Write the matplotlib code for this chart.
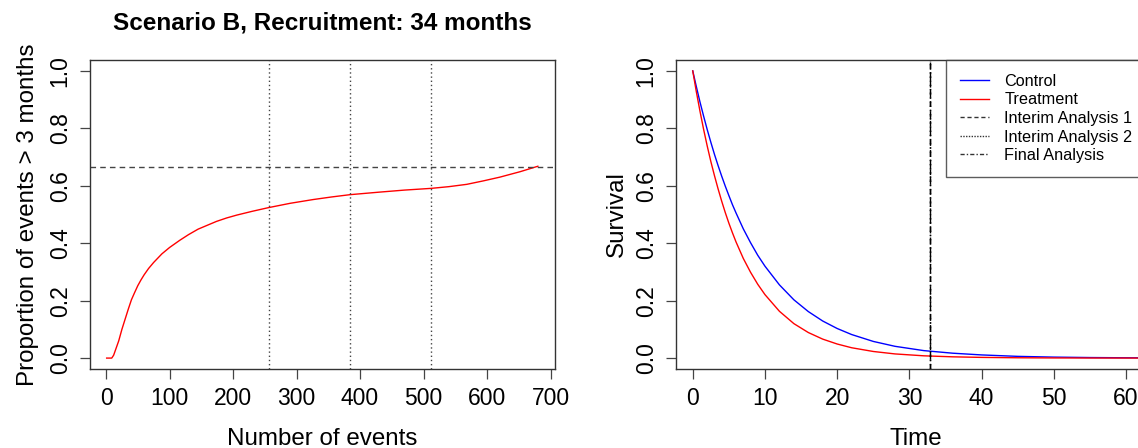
import matplotlib
matplotlib.use("Agg")
import matplotlib.pyplot as plt
from matplotlib.lines import Line2D

plt.rcParams['font.family'] = ['Liberation Sans', 'DejaVu Sans']

# ---- Left panel data: proportion of events > 3 months vs number of events
events = [1, 9, 12, 16, 20, 25, 30, 35, 40, 45, 50, 55, 60, 67, 75, 88, 100,
          116, 130, 145, 160, 174, 190, 206, 230, 256, 290, 326, 355, 384, 431,
          470, 512, 540, 568, 594, 620, 652, 680]
prop = [0.0, 0.0, 0.01, 0.035, 0.06, 0.10, 0.135, 0.17, 0.203, 0.228, 0.252,
        0.272, 0.29, 0.312, 0.333, 0.363, 0.385, 0.41, 0.43, 0.449, 0.463,
        0.476, 0.488, 0.498, 0.511, 0.524, 0.539, 0.552, 0.561, 0.569, 0.578,
        0.585, 0.591, 0.597, 0.605, 0.617, 0.630, 0.649, 0.668]
interim_events = [256, 384, 512]
threshold = 0.667
left_xticks = [0, 100, 200, 300, 400, 500, 600, 700]
yticks = [0.0, 0.2, 0.4, 0.6, 0.8, 1.0]

# ---- Right panel data: survival curves
time = [0, 0.5, 1, 1.5, 2, 2.5, 3, 3.5, 4, 4.5, 5, 5.5, 6, 7, 8, 9, 10, 12, 14,
        16, 18, 20, 22, 25, 28, 32, 36, 40, 45, 50, 55, 60, 65]
control = [1.0, 0.945, 0.892, 0.843, 0.796, 0.752, 0.710, 0.671, 0.634, 0.599,
           0.566, 0.534, 0.505, 0.450, 0.402, 0.358, 0.320, 0.255, 0.203,
           0.162, 0.129, 0.103, 0.082, 0.058, 0.041, 0.026, 0.017, 0.011,
           0.006, 0.0034, 0.0019, 0.0011, 0.0006]
treatment = [1.0, 0.927, 0.860, 0.797, 0.739, 0.685, 0.636, 0.590, 0.547,
             0.507, 0.470, 0.436, 0.404, 0.347, 0.299, 0.257, 0.221, 0.163,
             0.12, 0.089, 0.066, 0.049, 0.036, 0.023, 0.0145, 0.0079, 0.0044,
             0.0024, 0.0011, 0.0005, 0.0002, 0.0001, 0.0]
analysis_time = 32.8
right_xticks = [0, 10, 20, 30, 40, 50, 60]

W, H = 1138, 448
fig = plt.figure(figsize=(W / 100, H / 100), dpi=100)

def style(ax):
    for s in ax.spines.values():
        s.set_color('#333333')
        s.set_linewidth(1.0)
    ax.tick_params(direction='out', length=7, width=0.9, color='#444444',
                   labelsize=16.5, pad=6)
    ax.set_yticks(yticks)
    ax.set_yticklabels([f"{v:.1f}" for v in yticks], rotation=90, va='center')

fs = 17.4

# Left
ax1 = fig.add_axes([89.7 / W, (H - 369) / H, (555 - 89.7) / W, (369 - 60) / H])
ax1.plot(events, prop, color='red', lw=1.0)
for e in interim_events:
    ax1.axvline(e, color='#444444', ls=(0, (1, 2)), lw=1.0)
ax1.axhline(threshold, color='#444444', ls=(0, (4, 3)), lw=1.0)
ax1.set_xlim(-25.7, 707)
ax1.set_ylim(-0.038, 1.038)
style(ax1)
ax1.set_xticks(left_xticks)
ax1.set_xlabel("Number of events", fontsize=fs, labelpad=13)
ax1.set_ylabel("Proportion of events > 3 months", fontsize=fs, labelpad=7)
ax1.set_title("Scenario B, Recruitment: 34 months", fontsize=17.5,
              fontweight='bold', pad=22)

# Right
ax2 = fig.add_axes([675.7 / W, (H - 369) / H, (1155 - 675.7) / W, (369 - 60) / H])
ax2.plot(time, control, color='blue', lw=1.0)
ax2.plot(time, treatment, color='red', lw=1.0)
ax2.axvline(analysis_time, color='black', ls=(0, (4, 3)), lw=1.0)
ax2.axvline(analysis_time, color='black', ls=(0, (1, 2)), lw=1.0)
ax2.axvline(analysis_time, color='black', ls=(0, (4, 2, 1, 2)), lw=1.0)
ax2.set_xlim(-2.36, 64)
ax2.set_ylim(-0.038, 1.038)
style(ax2)
ax2.set_xticks(right_xticks)
ax2.set_xlabel("Time", fontsize=fs, labelpad=13)
ax2.set_ylabel("Survival", fontsize=fs, labelpad=5)

handles = [
    Line2D([], [], color='blue', lw=1.0),
    Line2D([], [], color='red', lw=1.0),
    Line2D([], [], color='#333333', lw=1.0, ls=(0, (3, 2))),
    Line2D([], [], color='#333333', lw=1.0, ls=(0, (1, 1))),
    Line2D([], [], color='#333333', lw=1.0, ls=(0, (3, 1.5, 1, 1.5))),
]
labels = ["Control", "Treatment", "Interim Analysis 1", "Interim Analysis 2",
          "Final Analysis"]
leg = ax2.legend(handles, labels, loc='upper left',
                 bbox_to_anchor=((946 - 675.7) / (1155 - 675.7), 1.0),
                 fontsize=11.7, frameon=True, fancybox=False, handlelength=1.8,
                 handletextpad=0.95, borderpad=0.85, labelspacing=0.22,
                 borderaxespad=0)
leg.get_frame().set_edgecolor('#333333')
leg.get_frame().set_linewidth(1.0)

fig.savefig("out.png", dpi=100)
